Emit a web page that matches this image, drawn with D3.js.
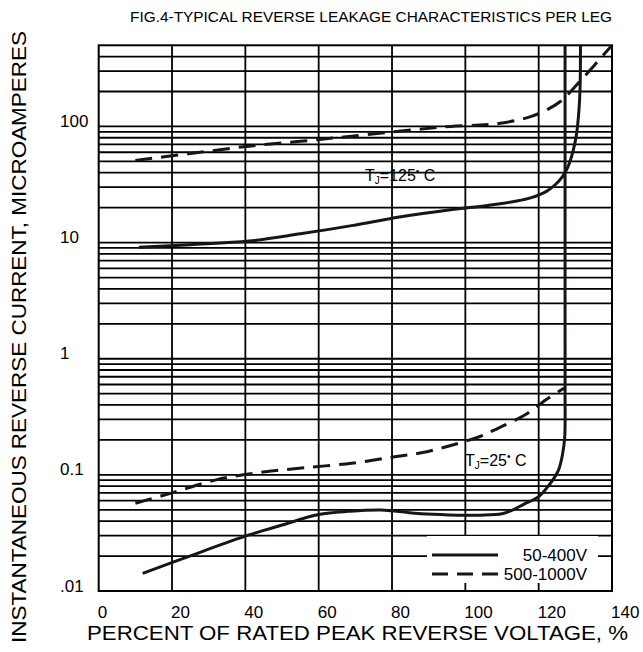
<!DOCTYPE html>
<html lang="en">
<head>
  <meta charset="utf-8">
  <script src="https://d3js.org/d3.v7.min.js"></script>
  <style>
    body { margin: 0; background: white; }
    svg { font-family: 'Liberation Sans', Arial, sans-serif; }
    .grid line { stroke: #000; stroke-width: 1.8; }
    .curve { fill: none; stroke: #1a1414; stroke-width: 3; }
    .tick-label { font-size: 17px; fill: #000; }
  </style>
</head>
<body>
  <svg id="chart" width="643" height="652"></svg>
  <script>
    // axis ticks
    const pctTicks = [0, 20, 40, 60, 80, 100, 120, 140];
    const currentTicks = [0.01, 0.1, 1, 10, 100];
    const currentLabels = [".01", "0.1", "1", "10", "100"];

    // [percent of rated voltage, microamperes]
    const hotLow = [[11, 9.1], [25, 9.6], [41, 10.3], [55, 11.9], [69, 14.0], [82, 16.6], [96, 19.2],
                    [106, 20.9], [114, 22.8], [118, 24.4], [122, 27.5], [124.5, 31.5], [126.5, 37],
                    [128, 45], [129.3, 60], [130.3, 85], [131, 140], [131.3, 220], [131.4, 500]];
    const hotHigh = [[10, 51], [25, 58.5], [41, 67.7], [55, 74.5], [69, 82.5], [88, 95], [96, 100],
                     [104, 103], [109, 106], [114, 113], [118, 122], [122, 138], [126, 165],
                     [131.3, 246], [140, 500]];
    const coldLow = [[12, 0.0142], [25, 0.0201], [41, 0.0304], [50, 0.037], [60, 0.0455], [68, 0.0485],
                     [77, 0.0499], [88, 0.0462], [96, 0.0452], [104, 0.045], [110, 0.0462], [113, 0.05],
                     [116, 0.056], [120, 0.065], [123, 0.083], [125.4, 0.11], [126.5, 0.15],
                     [127.1, 0.21], [127.2, 0.5], [127.2, 2], [127.2, 500]];
    const coldHigh = [[10, 0.057], [20, 0.07], [32, 0.0906], [44, 0.105], [56, 0.115], [69, 0.126],
                      [80, 0.142], [88, 0.155], [96, 0.179], [104, 0.214], [108, 0.244], [113, 0.29],
                      [117, 0.34], [122, 0.443], [127, 0.56]];

    const seriesNames = ["50-400V", "500-1000V"];

    const plot = {left: 98.7, right: 612, top: 45.3, bottom: 591};
    const svg = d3.select("#chart");

    const x = d3.scaleLinear().domain([0, 140]).range([plot.left, plot.right]);
    const y = d3.scaleLog().domain([0.01, 500]).range([plot.bottom, plot.top]);

    // log grid: 1..9 in every decade, up to 500
    const hLines = [];
    for (let e = -2; e <= 2; e++) {
      for (let k = 1; k <= 9; k++) {
        const v = k * Math.pow(10, e);
        if (v > 0.01 && v < 500) hLines.push(v);
      }
    }

    svg.append("defs").append("clipPath").attr("id", "clip")
      .append("rect")
      .attr("x", plot.left).attr("y", plot.top)
      .attr("width", plot.right - plot.left).attr("height", plot.bottom - plot.top);

    const grid = svg.append("g").attr("class", "grid");
    grid.selectAll(".h").data(hLines).enter().append("line")
      .attr("x1", plot.left).attr("x2", plot.right)
      .attr("y1", d => y(d)).attr("y2", d => y(d));
    grid.selectAll(".v").data(pctTicks.slice(1, -1)).enter().append("line")
      .attr("x1", d => x(d)).attr("x2", d => x(d))
      .attr("y1", plot.top).attr("y2", plot.bottom);

    svg.append("rect")
      .attr("x", plot.left).attr("y", plot.top)
      .attr("width", plot.right - plot.left).attr("height", plot.bottom - plot.top)
      .attr("fill", "none").attr("stroke", "#000").attr("stroke-width", 2);

    // tick labels
    svg.selectAll(".xt").data(pctTicks).enter().append("text")
      .attr("class", "tick-label")
      .attr("x", d => x(d) - 1).attr("y", 618)
      .text(d => d);
    svg.selectAll(".yt").data(currentTicks).enter().append("text")
      .attr("class", "tick-label")
      .attr("x", 60).attr("y", d => y(d) - 5)
      .attr("dominant-baseline", "central")
      .text((d, i) => currentLabels[i]);

    // curves
    const line = d3.line()
      .x(d => x(d[0])).y(d => y(d[1]))
      .curve(d3.curveCatmullRom.alpha(0.5));
    const curves = svg.append("g").attr("clip-path", "url(#clip)");
    [[hotLow, false], [hotHigh, true], [coldLow, false], [coldHigh, true]].forEach(([data, dashed]) => {
      curves.append("path")
        .attr("class", "curve")
        .attr("d", line(data))
        .attr("stroke-dasharray", dashed ? "17,9" : null);
    });

    // temperature labels
    function tjLabel(px, py, temp) {
      const t = svg.append("text").attr("x", px).attr("y", py)
        .attr("font-size", 16).attr("fill", "#000");
      t.append("tspan").text("T");
      t.append("tspan").attr("font-size", 10).attr("dy", 3).text("J");
      t.append("tspan").attr("dy", -3).text("=" + temp);
      t.append("tspan").attr("font-size", 10).attr("dy", -6).text("\u2022");
      t.append("tspan").attr("dy", 6).text(" C");
    }
    tjLabel(365, 181, "125");
    tjLabel(465, 466, "25");

    // legend
    const legend = svg.append("g");
    legend.append("rect")
      .attr("x", 427).attr("y", 536).attr("width", 171).attr("height", 47)
      .attr("fill", "white");
    seriesNames.forEach((name, i) => {
      const ly = 555 + i * 19;
      legend.append("line")
        .attr("x1", 432).attr("x2", 498).attr("y1", ly).attr("y2", ly)
        .attr("stroke", "#1a1414").attr("stroke-width", 3)
        .attr("stroke-dasharray", i ? "16,9" : null);
      legend.append("text")
        .attr("x", 587).attr("y", ly)
        .attr("text-anchor", "end").attr("dominant-baseline", "central")
        .attr("font-size", 17).text(name);
    });

    // titles
    svg.append("text")
      .attr("x", 130).attr("y", 22)
      .attr("font-size", 14.5)
      .attr("textLength", 482).attr("lengthAdjust", "spacingAndGlyphs")
      .text("FIG.4-TYPICAL REVERSE LEAKAGE CHARACTERISTICS PER LEG");
    svg.append("text")
      .attr("x", 87).attr("y", 640)
      .attr("font-size", 21)
      .attr("textLength", 541).attr("lengthAdjust", "spacingAndGlyphs")
      .text("PERCENT OF RATED PEAK REVERSE VOLTAGE, %");
    svg.append("text")
      .attr("transform", "translate(26,643) rotate(-90)")
      .attr("font-size", 21)
      .attr("textLength", 612).attr("lengthAdjust", "spacingAndGlyphs")
      .text("INSTANTANEOUS REVERSE CURRENT, MICROAMPERES");
  </script>
</body>
</html>
